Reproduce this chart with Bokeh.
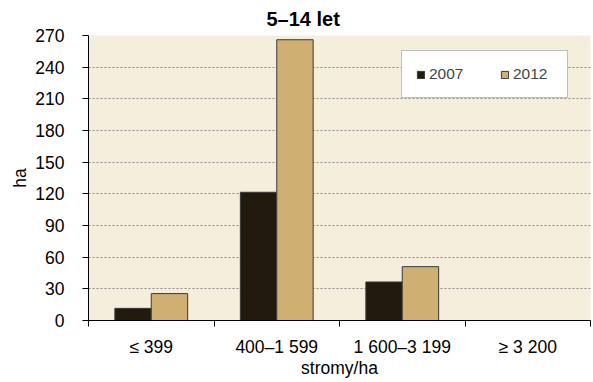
from bokeh.plotting import figure
from bokeh.models import FixedTicker, Legend, LegendItem, ColumnDataSource, Title
from bokeh.transform import dodge
from bokeh.embed import file_html
from bokeh.resources import INLINE

categories = ["≤ 399", "400–1 599", "1 600–3 199", "≥ 3 200"]
years = ["2007", "2012"]
values_2007 = [11.5, 121.5, 36.5, 0]
values_2012 = [25.5, 266, 51, 0]
y_ticks = list(range(0, 271, 30))

FONT = "Liberation Sans"
x_pos = [i + 0.5 for i in range(len(categories))]
bounds = list(range(len(categories) + 1))
bar_w = 0.29

src = ColumnDataSource(dict(x=x_pos, v2007=values_2007, v2012=values_2012, cat=categories))

p = figure(width=593, height=382, x_range=(0, len(categories)), y_range=(0, 270),
           output_backend="svg", toolbar_location=None,
           min_border_left=88, min_border_right=3, min_border_top=35, min_border_bottom=62)
p.title = Title(text="5–14 let", align="left", offset=178, text_font_size="20px",
                text_font=FONT, text_font_style="bold", text_color="black", standoff=11)

p.background_fill_color = "#F5EEDC"
p.border_fill_color = "white"
p.outline_line_color = None

r1 = p.vbar(x=dodge("x", -bar_w / 2, range=p.x_range), top="v2007", width=bar_w, bottom=0,
            source=src, fill_color="#231A0E", line_color="#3a3a3a", line_width=1)
r2 = p.vbar(x=dodge("x", bar_w / 2, range=p.x_range), top="v2012", width=bar_w, bottom=0,
            source=src, fill_color="#CFAF72", line_color="#3a3a3a", line_width=1)

p.xgrid.visible = False
p.ygrid.grid_line_color = "#8c8c8c"
p.ygrid.grid_line_dash = "2 2"
p.ygrid.grid_line_width = 1

p.yaxis.ticker = FixedTicker(ticks=y_ticks)
p.yaxis.axis_line_color = "black"
p.yaxis.major_tick_out = 6
p.yaxis.major_tick_in = 0
p.yaxis.minor_tick_out = 0
p.yaxis.minor_tick_in = 0
p.yaxis.major_tick_line_color = "black"
p.yaxis.major_label_standoff = 18
p.yaxis.major_label_text_font = FONT
p.yaxis.major_label_text_font_size = "17.5px"
p.yaxis.major_label_text_color = "black"
p.yaxis.axis_label = "ha"
p.yaxis.axis_label_text_font = FONT
p.yaxis.axis_label_text_font_size = "17.5px"
p.yaxis.axis_label_text_font_style = "normal"
p.yaxis.axis_label_text_color = "black"
p.yaxis.axis_label_standoff = 2

p.xaxis.ticker = FixedTicker(ticks=x_pos, minor_ticks=bounds)
p.xaxis.major_label_overrides = {x: c for x, c in zip(x_pos, categories)}
p.xaxis.axis_line_color = "black"
p.xaxis.major_tick_out = 0
p.xaxis.major_tick_in = 0
p.xaxis.minor_tick_out = 6
p.xaxis.minor_tick_in = 0
p.xaxis.minor_tick_line_color = "black"
p.xaxis.major_label_standoff = 10
p.xaxis.major_label_text_font = FONT
p.xaxis.major_label_text_font_size = "17.5px"
p.xaxis.major_label_text_color = "black"
p.xaxis.axis_label = "stromy/ha"
p.xaxis.axis_label_text_font = FONT
p.xaxis.axis_label_text_font_size = "17.5px"
p.xaxis.axis_label_text_font_style = "normal"
p.xaxis.axis_label_text_color = "black"
p.xaxis.axis_label_standoff = -2

legend = Legend(items=[LegendItem(label=years[0], renderers=[r1]),
                       LegendItem(label=years[1], renderers=[r2])],
                orientation="horizontal", location=(313, 222),
                border_line_color="#7f7f7f", border_line_width=1,
                background_fill_color="white", background_fill_alpha=1,
                glyph_width=9, glyph_height=9, label_height=9, label_width=40,
                label_standoff=4,
                label_text_font=FONT, label_text_font_size="15.5px",
                padding=14, spacing=31, margin=0)
p.add_layout(legend)

open("out.html", "w").write(file_html(p, INLINE))
